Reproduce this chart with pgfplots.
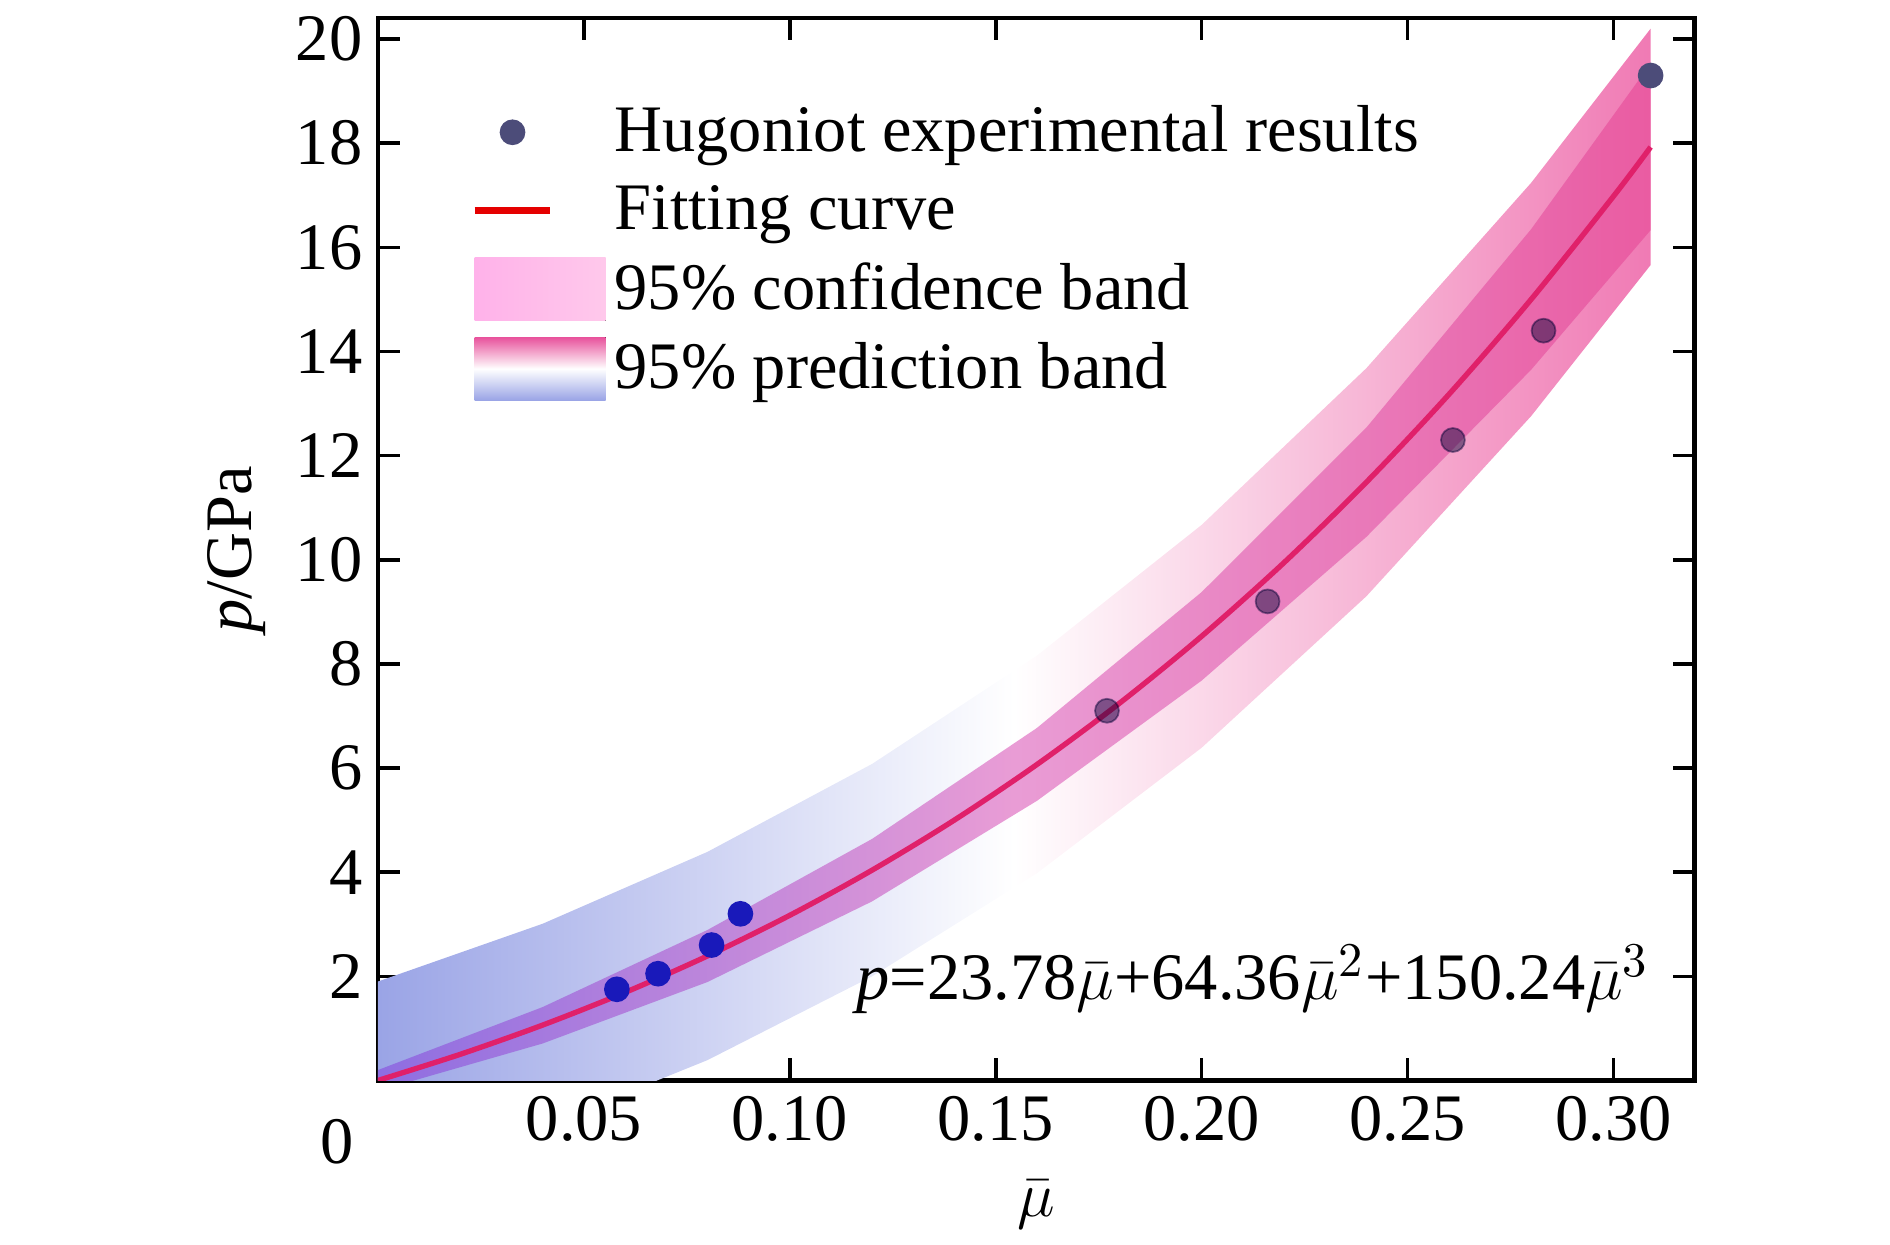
\documentclass[border=0pt]{standalone}
\usepackage{pgfplots}
\pgfplotsset{compat=1.18}
\usepackage{fontspec}
\setmainfont{Liberation Serif}
\definecolor{predL}{HTML}{9AA4E6}
\definecolor{predR}{HTML}{F07AB4}
\definecolor{confL}{HTML}{8A5CE0}
\definecolor{confM}{HTML}{E27CC8}
\definecolor{confR}{HTML}{E8529C}
\definecolor{fitc}{HTML}{E0206A}
\begin{document}
\begin{tikzpicture}
\path[use as bounding box] (-3.0cm,-1.30cm) rectangle (12.0cm,8.575cm);
\begin{axis}[
  at={(0,0)}, anchor=south west,
  width=10.45cm, height=8.43cm, scale only axis,
  xmin=0, xmax=0.3197, ymin=0, ymax=20.4,
  clip mode=individual,
  xtick={0.05,0.10,0.15,0.20,0.25,0.30},
  xticklabels={0.05,0.10,0.15,0.20,0.25,0.30},
  ytick={2,4,...,20},
  tick align=inside, minor tick num=0,
  major tick length=5pt,
  axis line style={line width=1pt},
  every tick/.style={line width=0.8pt, black},
  tick label style={font=\fontsize{15}{17}\selectfont},
  /pgf/number format/assume math mode=true,
  xlabel={$\bar{\mu}$}, ylabel={\textit{p}/GPa},
  label style={font=\fontsize{15}{17}\selectfont},
  xlabel style={yshift=-2pt},
  legend style={draw=none, fill=none, at={(0.06,0.935)}, anchor=north west,
    font=\fontsize{15}{17}\selectfont, row sep=2pt},
  legend cell align=left,
]
% prediction band
\addplot[draw=none, left color=predL, right color=predR, middle color=white, forget plot]
 coordinates {(0,1.9)(0.04,3.01)(0.08,4.39)(0.12,6.08)(0.16,8.16)(0.20,10.67)(0.24,13.68)(0.28,17.24)(0.309,20.2)
 (0.309,15.66)(0.28,12.76)(0.24,9.30)(0.20,6.39)(0.16,3.98)(0.12,2.0)(0.08,0.39)(0.04,-0.89)(0,-1.9)} -- cycle;
% confidence band
\addplot[draw=none, left color=confL, right color=confR, middle color=confM, fill opacity=0.75, forget plot]
 coordinates {(0,0.2)(0.04,1.41)(0.08,2.89)(0.12,4.64)(0.16,6.77)(0.20,9.38)(0.24,12.54)(0.28,16.35)(0.309,19.53)
 (0.309,16.33)(0.28,13.65)(0.24,10.44)(0.20,7.68)(0.16,5.37)(0.12,3.44)(0.08,1.89)(0.04,0.71)(0,-0.2)} -- cycle;
% points
\addplot[only marks, mark=*, mark size=2.7pt, color=black!75!blue!70!white, mark options={draw=none}]
 coordinates {(0.309,19.3)};
\addlegendentry{Hugoniot experimental results}
\addplot[very thick, color=fitc, smooth, legend image post style={color=red!90!black, line width=1.6pt}]
 coordinates {(0,0)(0.02,0.5026)(0.04,1.0638)(0.06,1.691)(0.08,2.391)(0.10,3.172)(0.12,4.040)(0.14,5.003)(0.16,6.068)(0.18,7.242)(0.20,8.532)(0.22,9.946)(0.24,11.491)(0.26,13.174)(0.28,15.002)(0.30,16.983)(0.309,17.926)};
\addlegendentry{Fitting curve}
\addlegendimage{legend image code/.code={\fill[draw=none, left color=pink!60!magenta!55, right color=pink!70!magenta!45] (0cm,-0.25cm) rectangle (1.04cm,0.25cm);}}
\addlegendentry{95\% confidence band}
\addlegendimage{legend image code/.code={\fill[draw=none, top color=confR, bottom color=predL, middle color=white] (0cm,-0.25cm) rectangle (1.04cm,0.25cm);}}
\addlegendentry{95\% prediction band}
\addplot[only marks, mark=*, mark size=2.7pt, color=blue!70!black!90, mark options={draw=none}, forget plot]
 coordinates {(0.058,1.75)(0.068,2.05)(0.081,2.6)(0.088,3.2)};
\addplot[only marks, mark=*, mark size=2.7pt, color=black!80!blue, opacity=0.45, mark options={draw=none}, forget plot]
 coordinates {(0.177,7.1)(0.216,9.2)(0.261,12.3)(0.283,14.4)};
\node[anchor=base east, font=\fontsize{15}{17}\selectfont] at (axis cs:0.3125,1.55)
 {\textit{p}=23.78$\bar{\mu}$+64.36$\bar{\mu}^2$+150.24$\bar{\mu}^3$};
\node[anchor=north, font=\fontsize{15}{17}\selectfont] at (axis cs:-0.01,-0.45) {0};
\end{axis}
\end{tikzpicture}
\end{document}
